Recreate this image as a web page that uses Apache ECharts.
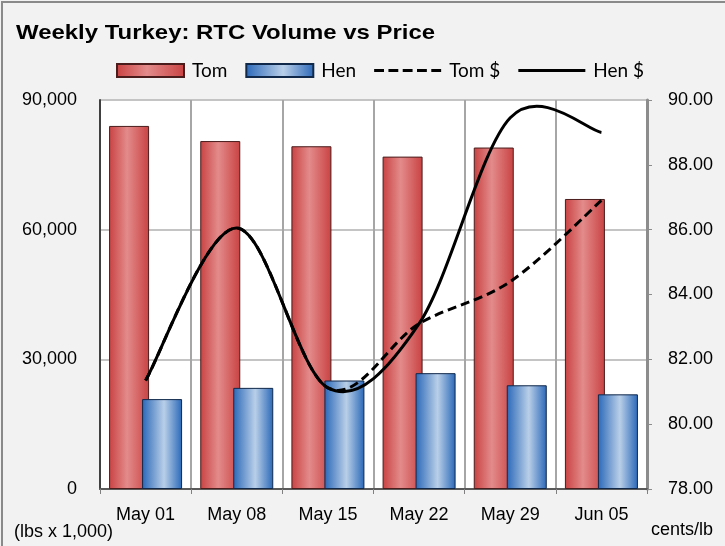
<!DOCTYPE html>
<html>
<head>
<meta charset="utf-8">
<script src="https://cdn.jsdelivr.net/npm/echarts@6/dist/echarts.min.js"></script>
<style>
  html, body { margin: 0; padding: 0; background: #f2f2f2; }
  #chart { width: 725px; height: 546px; }
</style>
</head>
<body>
<div id="chart"></div>
<script>
  // weekly data
  var weeks = ['May 01', 'May 08', 'May 15', 'May 22', 'May 29', 'Jun 05'];
  var tomVolume = [84000, 80500, 79300, 76900, 79000, 67100];
  var henVolume = [20800, 23400, 25100, 26800, 24000, 21900];
  var tomPrice = [81.35, 86.05, 81.12, 83.1, 84.4, 86.9];
  var henPrice = [81.35, 86.05, 81.12, 83.1, 89.45, 89.0];

  var labelFont = 'Liberation Sans, Arial, sans-serif';

  function hGrad(edge, light, pos) {
    return new echarts.graphic.LinearGradient(0, 0, 1, 0, [
      { offset: 0, color: edge },
      { offset: pos, color: light },
      { offset: 1, color: edge }
    ]);
  }

  // excel-style smoothed line: catmull-rom through the points given by the axes
  function splineItem(values, dash) {
    return function (params, api) {
      if (params.dataIndex !== 0) return null;
      var pts = values.map(function (v, i) { return api.coord([i, v]); });
      var d = 'M' + pts[0][0] + ',' + pts[0][1];
      for (var i = 0; i < pts.length - 1; i++) {
        var p0 = pts[i - 1] || pts[i], p1 = pts[i], p2 = pts[i + 1], p3 = pts[i + 2] || pts[i + 1];
        var c1x = p1[0] + (p2[0] - p0[0]) / 6, c1y = p1[1] + (p2[1] - p0[1]) / 6;
        var c2x = p2[0] - (p3[0] - p1[0]) / 6, c2y = p2[1] - (p3[1] - p1[1]) / 6;
        d += 'C' + c1x + ',' + c1y + ',' + c2x + ',' + c2y + ',' + p2[0] + ',' + p2[1];
      }
      return {
        type: 'path',
        shape: { pathData: d },
        style: { fill: null, stroke: '#000', lineWidth: 3, lineDash: dash, lineCap: 'butt', lineJoin: 'round' }
      };
    };
  }

  var dashIcon = 'path://M0,0L0.01,0M0,5h10v3h-10zM14.5,5h10v3h-10zM29,5h10v3h-10zM43.5,5h10v3h-10zM58,5h10v3h-10zM68,13L67.99,13';
  var solidIcon = 'path://M0,0L0.01,0M0,5h68v3h-68zM68,13L67.99,13';

  var chart = echarts.init(document.getElementById('chart'));
  chart.setOption({
    backgroundColor: '#f2f2f2',
    animation: false,
    legend: {
      left: 116,
      top: 61,
      padding: 0,
      itemWidth: 67,
      itemHeight: 13,
      itemGap: 18,
      textStyle: { fontFamily: 'Lato, sans-serif', fontSize: 19, color: '#000', padding: [0, 0, 0, 3] },
      data: [
        { name: 'Tom', icon: 'rect' },
        { name: 'Hen', icon: 'rect' },
        { name: 'Tom $', icon: dashIcon },
        { name: 'Hen $', icon: solidIcon }
      ]
    },
    graphic: [
      { type: 'rect', shape: { x: 2, y: 2, width: 800, height: 600 },
        style: { fill: 'none', stroke: '#8a8a8a', lineWidth: 2 }, z: 100 },
      { type: 'text', x: 16, y: 23, scaleX: 1.14,
        style: { text: 'Weekly Turkey: RTC Volume vs Price', font: 'bold 21px ' + labelFont, fill: '#000' } },
      { type: 'text', left: 14, top: 523,
        style: { text: '(lbs x 1,000)', font: '18px ' + labelFont, fill: '#000' } },
      { type: 'text', left: 651, top: 521,
        style: { text: 'cents/lb', font: '18px ' + labelFont, fill: '#000' } }
    ],
    grid: {
      left: 100, right: 78, top: 100, bottom: 57,
      show: true, backgroundColor: '#fff', borderWidth: 0
    },
    xAxis: {
      type: 'category',
      data: weeks,
      axisLine: { lineStyle: { color: '#5a5a5a', width: 2 } },
      axisTick: { show: true, length: 5, lineStyle: { color: '#808080', width: 1 } },
      axisLabel: { margin: 17, fontFamily: labelFont, fontSize: 18, color: '#000' },
      splitLine: { show: true, lineStyle: { color: '#a6a6a6', width: 2 } }
    },
    yAxis: [
      {
        type: 'value', min: 0, max: 90000, interval: 30000,
        axisLine: { show: true, lineStyle: { color: '#404040', width: 2 } },
        axisTick: { show: false },
        axisLabel: {
          margin: 23, fontFamily: labelFont, fontSize: 18, color: '#000',
          formatter: function (v) { return v.toLocaleString('en-US'); }
        },
        splitLine: { lineStyle: { color: '#c4c4c4', width: 2 } }
      },
      {
        type: 'value', min: 78, max: 90, interval: 2, position: 'right',
        axisLine: { show: true, lineStyle: { color: '#8c8c8c', width: 3 } },
        axisTick: { show: true, length: 5, lineStyle: { color: '#8c8c8c' } },
        axisLabel: {
          margin: 21, fontFamily: labelFont, fontSize: 18, color: '#000',
          formatter: function (v) { return v.toFixed(2); }
        },
        splitLine: { show: false }
      }
    ],
    series: [
      {
        name: 'Tom', type: 'bar', data: tomVolume,
        barWidth: 40, barGap: '-17.5%',
        itemStyle: { color: hGrad('#c94242', '#e38b8b', 0.45), borderColor: '#4a1c1c', borderWidth: 1 }
      },
      {
        name: 'Hen', type: 'bar', data: henVolume,
        barWidth: 40,
        itemStyle: { color: hGrad('#2a68b8', '#b9cfe8', 0.55), borderColor: '#10284a', borderWidth: 1 }
      },
      {
        name: 'Tom $', type: 'custom', yAxisIndex: 1, data: tomPrice, z: 10,
        renderItem: splineItem(tomPrice, [9, 5]),
        itemStyle: { color: '#000' }
      },
      {
        name: 'Hen $', type: 'custom', yAxisIndex: 1, data: henPrice, z: 11,
        renderItem: splineItem(henPrice, null),
        itemStyle: { color: '#000' }
      }
    ]
  });
</script>
</body>
</html>
